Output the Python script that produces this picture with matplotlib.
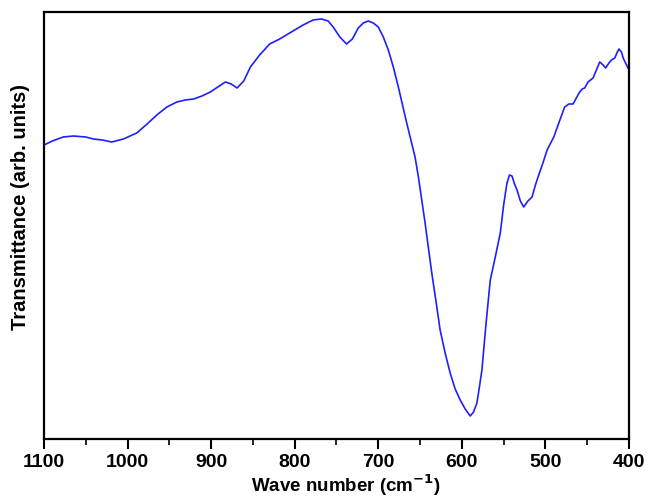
import matplotlib

matplotlib.use("Agg")
import matplotlib.pyplot as plt
from matplotlib.ticker import MultipleLocator

# FTIR spectrum (arbitrary units)
wavenumber = [
    1100, 1090, 1077, 1065, 1050, 1041, 1030, 1019, 1005, 989, 978, 965, 953,
    941, 931, 921, 911, 901, 892, 883, 876, 869, 861, 853, 842, 830, 818,
    802, 790, 778, 768, 760, 754, 746, 738, 731, 724, 718, 712, 706, 700,
    694, 688, 682, 676, 671, 666, 661, 656, 652, 648, 644, 640, 636, 631,
    626, 620, 614, 608, 602, 596, 590, 586, 582, 579, 576, 571, 566, 560,
    554, 550, 546, 543, 540, 537, 534, 530, 526, 521, 516, 512, 508, 503,
    498, 490, 484, 477, 472, 467, 463, 459, 456, 453, 449, 446, 443, 439,
    435, 431, 428, 424, 421, 417, 414, 412, 409, 407, 403, 400,
]
transmittance = [
    292, 296, 300, 301, 300, 298, 297, 295, 298, 304, 312, 322, 330,
    335, 337, 338, 341, 345, 350, 355, 353, 349, 356, 370, 382, 393, 398,
    406, 412, 417, 418, 416, 410, 400, 393, 398, 409, 414, 416, 414, 410,
    400, 387, 370, 350, 332, 314, 297, 280, 260, 237, 214, 189, 164, 136,
    107, 84, 64, 48, 37, 28, 21, 25, 34, 50, 67, 114, 157, 180,
    204, 232, 254, 262, 261, 253, 247, 236, 230, 236, 240, 252, 262, 274,
    287, 300, 314, 330, 333, 333, 339, 345, 348, 349, 355, 357, 359, 367,
    375, 372, 369, 374, 377, 379, 385, 388, 385, 379, 372, 367,
]

x_ticks = [1100, 1000, 900, 800, 700, 600, 500, 400]

plt.rcParams["font.family"] = ["Liberation Sans", "DejaVu Sans"]
plt.rcParams["font.weight"] = "bold"

fig = plt.figure(figsize=(6.48, 4.99), dpi=100)
ax = fig.add_axes([44 / 648, 60 / 499, 585 / 648, 427 / 499])

ax.plot(wavenumber, transmittance, color="#1f1fff", linewidth=1.2)

ax.set_xlim(1100, 400)
ax.set_ylim(-2, 425)
ax.set_xticks(x_ticks)
ax.xaxis.set_minor_locator(MultipleLocator(50))
ax.set_yticks([])

ax.tick_params(axis="x", which="major", direction="out", length=7, width=1.5,
               labelsize=14, pad=4)
ax.tick_params(axis="x", which="minor", direction="out", length=4, width=1.2)
for label in ax.get_xticklabels():
    label.set_fontweight("bold")
for spine in ax.spines.values():
    spine.set_linewidth(1.6)

ax.set_xlabel("Wave number (cm$^{\\mathbf{-1}}$)", fontsize=13.5,
              fontweight="bold")
ax.xaxis.set_label_coords((346 - 44) / 585, -(485 - 439) / 427)
ax.xaxis.label.set_va("center")

ax.set_ylabel("Transmittance (arb. units)", fontsize=14.5, fontweight="bold")
ax.yaxis.set_label_coords(-(44 - 21) / 585, (439 - 207) / 427)
ax.yaxis.label.set_va("center")

fig.savefig("out.png", dpi=100)
plt.close(fig)
